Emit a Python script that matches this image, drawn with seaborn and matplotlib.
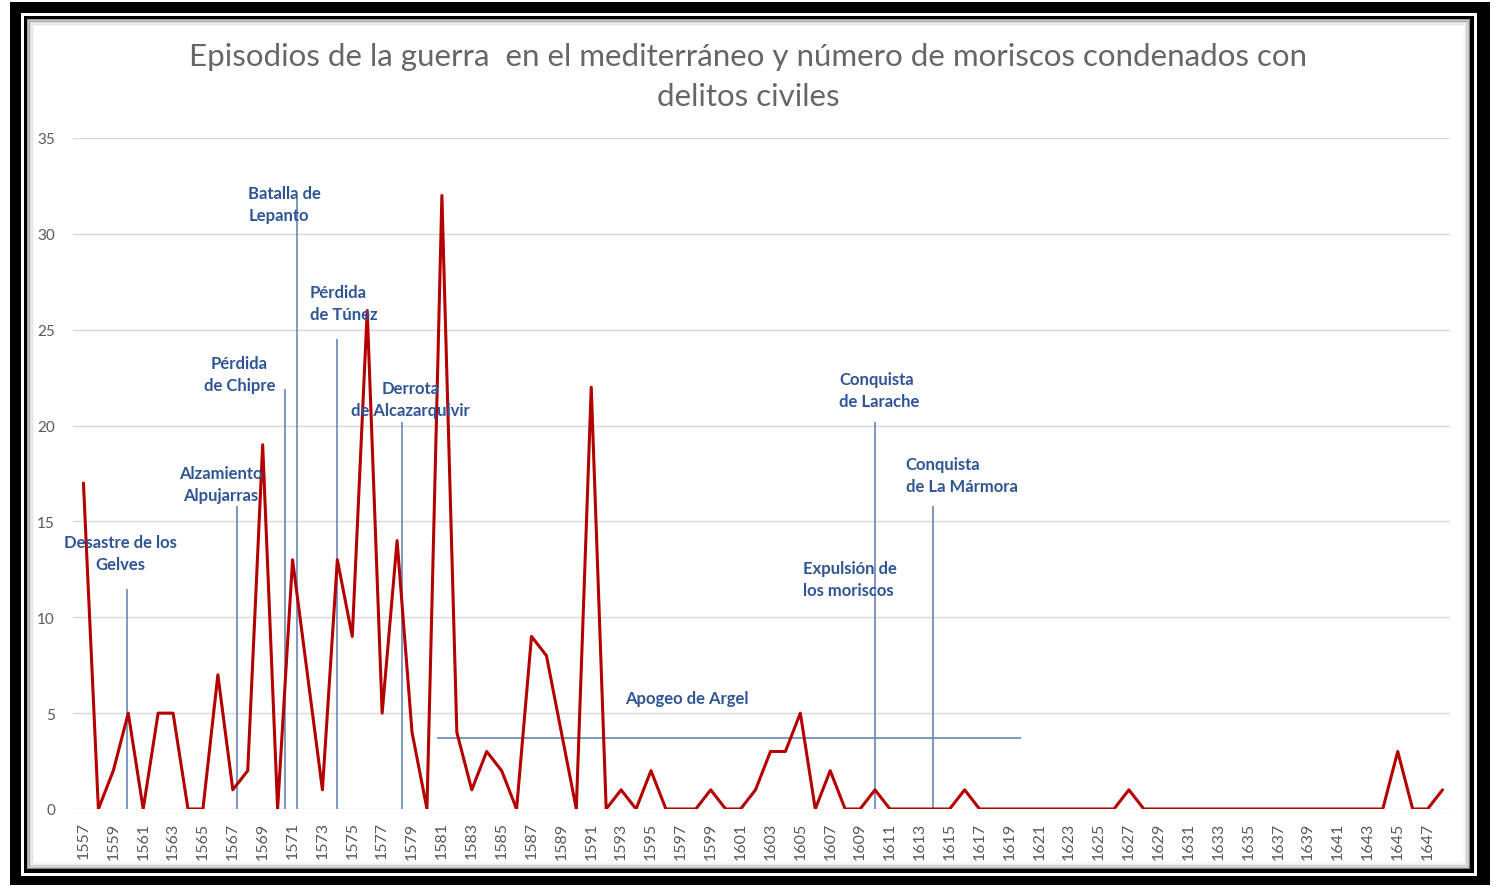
import matplotlib
matplotlib.use("Agg")
import matplotlib.pyplot as plt
from matplotlib.patches import Rectangle
import seaborn as sns
import pandas as pd

# ---------------- data ----------------
years = list(range(1557, 1649))
condenados = [
    17, 0, 2, 5, 0, 5, 5, 0, 0, 7,      # 1557-1566
    1, 2, 19, 0, 13, 7, 1, 13, 9, 26,   # 1567-1576
    5, 14, 4, 0, 32, 4, 1, 3, 2, 0,     # 1577-1586
    9, 8, 4, 0, 22, 0, 1, 0, 2, 0,      # 1587-1596
    0, 0, 1, 0, 0, 1, 3, 3, 5, 0,       # 1597-1606
    2, 0, 0, 1, 0, 0, 0, 0, 0, 1,       # 1607-1616
    0, 0, 0, 0, 0, 0, 0, 0, 0, 0,       # 1617-1626
    1, 0, 0, 0, 0, 0, 0, 0, 0, 0,       # 1627-1636
    0, 0, 0, 0, 0, 0, 0, 0, 3, 0,       # 1637-1646
    0, 1,                               # 1647-1648
]
tick_years = list(range(1557, 1649, 2))
y_ticks = [0, 5, 10, 15, 20, 25, 30, 35]

title = ("Episodios de la guerra  en el mediterráneo y número de moriscos condenados con\n"
         "delitos civiles")

# event markers: vertical line year and line top value
event_line_x = [1559.9, 1567.25, 1570.5, 1571.33, 1574.0, 1578.3, 1610.0, 1613.9]
event_line_top = [11.5, 15.8, 21.9, 31.8, 24.5, 20.2, 20.2, 15.8]

# event labels
event_labels = ["Desastre de los\nGelves", "Alzamiento\nAlpujarras", "Pérdida\nde Chipre",
                "Batalla de\nLepanto", "Pérdida\nde Túnez", "Derrota\nde Alcazarquivir",
                "Conquista\nde Larache", "Conquista\nde La Mármora",
                "Expulsión de\nlos moriscos", "Apogeo de Argel"]
label_x = [1559.5, 1566.2, 1567.45, 1568.05, 1572.14, 1578.9, 1607.6, 1612.05, 1605.2, 1597.4]
label_y = [13.35, 16.95, 22.7, 31.55, 26.4, 21.4, 21.85, 17.4, 12.0, 5.8]
label_ha = ["center", "center", "center", "left", "left", "center", "left", "left", "left", "center"]

# "Apogeo de Argel" period line
argel_start, argel_end, argel_level = 1580.7, 1619.8, 3.7

df = pd.DataFrame({"year": years, "condenados": condenados})

# ---------------- style ----------------
sns.set_theme(style="white")
plt.rcParams["font.family"] = ["Lato", "DejaVu Sans"]

W, H = 1499, 887
fig = plt.figure(figsize=(W / 100, H / 100), dpi=100)
fig.patch.set_facecolor("white")


def px_rect(x0, y0, x1, y1, color, z=-10, alpha=1.0, fill=True, lw=0):
    r = Rectangle((x0 / W, 1 - y1 / H), (x1 - x0) / W, (y1 - y0) / H,
                  transform=fig.transFigure, facecolor=color if fill else "none",
                  edgecolor=color if not fill else "none", linewidth=lw,
                  zorder=z, alpha=alpha)
    fig.patches.append(r)


# frame
px_rect(10, 3, 1490, 886, "black", z=-10)
px_rect(21, 14, 1477, 877, "white", z=-9)
px_rect(24, 17, 1474, 874, "black", z=-8)
px_rect(27, 20, 1470, 870, "white", z=-7)
# inner shadow
for i, a in enumerate([0.35, 0.22, 0.13, 0.07, 0.03]):
    px_rect(27 + i * 1.5, 20 + i * 1.5, 1470 - i * 1.5, 870 - i * 1.5, "black",
            z=-6, alpha=a, fill=False, lw=1.5)

ax = fig.add_axes([73 / W, 1 - 810 / H, (1450 - 73) / W, (810 - 139) / H])
ax.set_facecolor("none")

sns.lineplot(data=df, x="year", y="condenados", color="#B50000", linewidth=2.2, ax=ax)

ax.set_xlim(1556.3, 1648.5)
ax.set_ylim(0, 35)
ax.set_yticks(y_ticks)
ax.set_yticklabels([str(v) for v in y_ticks], fontsize=11, color="#595959")
ax.set_xticks(tick_years)
ax.set_xticklabels([str(y) for y in tick_years], rotation=90, fontsize=11.5, color="#595959")
ax.tick_params(axis="both", length=0)
ax.tick_params(axis="y", pad=13)
ax.tick_params(axis="x", pad=9)
ax.set_xlabel("")
ax.set_ylabel("")
for s in ax.spines.values():
    s.set_visible(False)
ax.yaxis.grid(True, color="#D9D9D9", linewidth=1)
ax.set_axisbelow(True)

line_col = "#5A7DB0"
ax.vlines(event_line_x, 0, event_line_top, color=line_col, linewidth=1.1, zorder=1)
ax.hlines(argel_level, argel_start, argel_end, color=line_col, linewidth=1.1, zorder=1)

for txt, x, y, ha in zip(event_labels, label_x, label_y, label_ha):
    ax.text(x, y, txt, ha=ha, va="center", multialignment=ha, fontsize=12,
            fontweight="bold", color="#2F5597", linespacing=1.45, zorder=5)

fig.text(748 / W, 1 - 77 / H, title, ha="center", va="center", fontsize=22.5,
         color="#666666", fontweight="normal", linespacing=1.55)

fig.savefig("out.png", dpi=100, facecolor="white")
